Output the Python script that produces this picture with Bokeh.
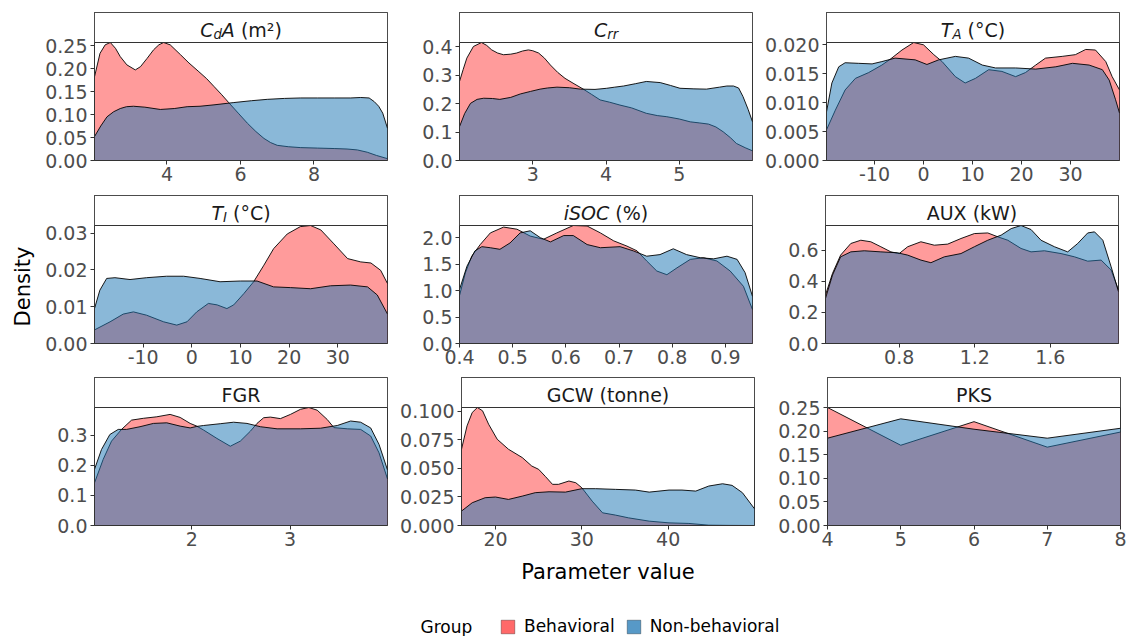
import numpy as np
from bokeh.plotting import figure
from bokeh.models import (Range1d, FixedTicker, PrintfTickFormatter, BoxAnnotation,
                          Label, Legend, LegendItem)
from bokeh.layouts import column, row
from bokeh.embed import file_html
from bokeh.resources import INLINE

groups = ["Behavioral", "Non-behavioral"]

# ---------------- C_dA (m2)
cda_x_beh = [2.03, 2.18, 2.32, 2.46, 2.6, 2.73, 2.91, 3.14, 3.28, 3.46, 3.64, 3.78, 3.91, 4.09, 4.37, 4.6, 4.87,
             5.08, 5.28, 5.48, 5.68, 5.94, 6.19, 6.42, 6.64, 6.82, 7.0, 7.3, 7.64, 8.1, 8.55, 8.9, 9.18, 9.45, 9.7, 10.0]
cda_y_beh = [0.182, 0.233, 0.2515, 0.2566, 0.244, 0.226, 0.208, 0.197, 0.204, 0.222, 0.241, 0.2515, 0.2566, 0.2515,
             0.230, 0.212, 0.193, 0.178, 0.161, 0.144, 0.126, 0.103, 0.081, 0.063, 0.048, 0.039, 0.033, 0.030, 0.028,
             0.027, 0.026, 0.025, 0.023, 0.018, 0.011, 0.004]
cda_x_non = [2.03, 2.2, 2.37, 2.55, 2.73, 2.9, 3.09, 3.4, 3.82, 4.2, 4.55, 4.9, 5.28, 5.82, 6.3, 6.73, 7.2, 7.64,
             8.1, 8.55, 9.0, 9.27, 9.5, 9.64, 9.76, 9.87, 10.0]
cda_y_non = [0.052, 0.075, 0.095, 0.106, 0.113, 0.117, 0.118, 0.116, 0.111, 0.113, 0.117, 0.118, 0.121, 0.126, 0.130,
             0.133, 0.135, 0.136, 0.136, 0.136, 0.136, 0.137, 0.136, 0.128, 0.118, 0.103, 0.070]

# ---------------- C_rr
crr_x_beh = [2.0, 2.05, 2.1, 2.19, 2.30, 2.37, 2.44, 2.52, 2.6, 2.7, 2.78, 2.86, 2.94, 3.0, 3.08, 3.16, 3.24, 3.34,
             3.44, 3.55, 3.69, 3.8, 3.92, 4.05, 4.19, 4.35, 4.55, 4.7, 4.83, 5.0, 5.15, 5.28, 5.4, 5.5, 5.6, 5.7,
             5.78, 5.9, 6.0]
crr_y_beh = [0.278, 0.32, 0.36, 0.401, 0.415, 0.405, 0.389, 0.378, 0.372, 0.374, 0.378, 0.385, 0.389, 0.386, 0.378,
             0.36, 0.336, 0.31, 0.289, 0.272, 0.251, 0.233, 0.213, 0.205, 0.195, 0.185, 0.166, 0.158, 0.154, 0.146,
             0.136, 0.132, 0.128, 0.118, 0.101, 0.08, 0.06, 0.045, 0.034]
crr_x_non = [2.0, 2.07, 2.15, 2.24, 2.33, 2.45, 2.55, 2.7, 2.83, 2.97, 3.1, 3.2, 3.33, 3.5, 3.65, 3.85, 4.01, 4.12,
             4.24, 4.4, 4.55, 4.74, 4.88, 5.01, 5.2, 5.37, 5.55, 5.65, 5.74, 5.81, 5.87, 5.94, 6.0]
crr_y_non = [0.119, 0.165, 0.201, 0.215, 0.219, 0.218, 0.215, 0.222, 0.234, 0.243, 0.251, 0.255, 0.258, 0.256, 0.251,
             0.250, 0.254, 0.258, 0.262, 0.270, 0.278, 0.274, 0.264, 0.254, 0.252, 0.251, 0.258, 0.262, 0.262, 0.255,
             0.225, 0.18, 0.136]

# ---------------- T_A (degC)
ta_x_beh = [-19.8, -18.0, -16.0, -13.9, -11.2, -8.5, -6.8, -4.4, -2.0, 0.0, 2.1, 3.8, 6.5, 8.5, 10.6, 13.3, 16.0,
            18.8, 20.8, 22.9, 24.9, 28.3, 31.0, 33.1, 35.1, 37.2, 38.5, 40.0]
ta_y_beh = [0.0053, 0.0087, 0.0122, 0.0142, 0.0152, 0.0165, 0.0175, 0.0191, 0.0204, 0.0200, 0.0183, 0.0171, 0.0145,
            0.0134, 0.0142, 0.0157, 0.0154, 0.0145, 0.0152, 0.0165, 0.0177, 0.0180, 0.0183, 0.0192, 0.0191, 0.0171,
            0.0145, 0.0122]
ta_x_non = [-19.8, -18.7, -17.3, -16.0, -13.3, -10.5, -8.5, -5.8, -1.7, 0.7, 3.1, 6.5, 9.2, 12.0, 14.7, 18.8, 22.9,
            27.0, 30.4, 33.8, 36.5, 37.9, 39.2, 40.0]
ta_y_non = [0.0084, 0.0134, 0.0162, 0.0169, 0.0168, 0.0167, 0.0171, 0.0177, 0.0174, 0.0166, 0.0174, 0.0180, 0.0177,
            0.0165, 0.0160, 0.0160, 0.0158, 0.0162, 0.0168, 0.0165, 0.0157, 0.0139, 0.0105, 0.0082]

# ---------------- T_I (degC)
ti_x_beh = [-20.0, -16.8, -14.1, -12.0, -9.3, -5.8, -3.1, -1.0, 1.0, 3.4, 5.2, 7.2, 8.6, 10.7, 12.7, 14.8, 16.8,
            19.6, 22.3, 24.4, 26.5, 29.2, 32.0, 34.7, 36.8, 38.8, 40.2]
ti_y_beh = [0.0037, 0.0059, 0.0080, 0.0086, 0.0077, 0.0059, 0.0050, 0.0059, 0.0086, 0.0109, 0.0105, 0.0095, 0.0105,
            0.0136, 0.0168, 0.0213, 0.0258, 0.0298, 0.0318, 0.0321, 0.0309, 0.0271, 0.0231, 0.0222, 0.0219, 0.0199,
            0.0163]
ti_x_non = [-20.0, -18.9, -17.5, -15.8, -12.7, -9.3, -5.2, -1.7, 1.7, 5.8, 10.0, 13.4, 16.8, 20.3, 24.4, 28.5, 32.6,
            36.1, 38.1, 40.2]
ti_y_non = [0.0095, 0.0145, 0.0177, 0.0179, 0.0174, 0.0179, 0.0183, 0.0183, 0.0177, 0.0168, 0.0170, 0.0170, 0.0154,
            0.0152, 0.0149, 0.0157, 0.0159, 0.0154, 0.0132, 0.0080]

# ---------------- iSOC (%)
isoc_x_beh = [0.4, 0.411, 0.423, 0.439, 0.458, 0.483, 0.508, 0.533, 0.558, 0.583, 0.614, 0.64, 0.665, 0.69, 0.715,
              0.734, 0.752, 0.771, 0.79, 0.809, 0.834, 0.859, 0.884, 0.909, 0.934, 0.951]
isoc_y_beh = [0.905, 1.335, 1.65, 1.87, 2.09, 2.2, 2.16, 2.03, 1.97, 2.09, 2.23, 2.22, 2.09, 1.94, 1.84, 1.75, 1.56,
              1.37, 1.30, 1.43, 1.59, 1.62, 1.56, 1.37, 1.08, 0.64]
isoc_x_non = [0.4, 0.414, 0.429, 0.442, 0.458, 0.476, 0.495, 0.514, 0.533, 0.552, 0.571, 0.596, 0.614, 0.64, 0.665,
              0.702, 0.727, 0.752, 0.777, 0.802, 0.827, 0.853, 0.878, 0.903, 0.922, 0.937, 0.951]
isoc_y_non = [1.02, 1.46, 1.75, 1.83, 1.81, 1.78, 1.9, 2.09, 2.13, 2.0, 1.92, 2.04, 2.04, 1.87, 1.81, 1.83, 1.75,
              1.65, 1.68, 1.79, 1.68, 1.62, 1.6, 1.65, 1.59, 1.34, 0.89]

# ---------------- AUX (kW)
aux_x_beh = [0.41, 0.447, 0.49, 0.544, 0.597, 0.65, 0.703, 0.756, 0.8, 0.845, 0.915, 0.986, 1.057, 1.127, 1.198,
             1.269, 1.322, 1.375, 1.445, 1.498, 1.569, 1.657, 1.728, 1.798, 1.869, 1.922, 1.961]
aux_y_beh = [0.313, 0.452, 0.57, 0.645, 0.666, 0.656, 0.624, 0.591, 0.58, 0.624, 0.656, 0.634, 0.641, 0.677, 0.709,
             0.713, 0.688, 0.666, 0.613, 0.591, 0.598, 0.58, 0.559, 0.531, 0.538, 0.474, 0.345]
aux_x_non = [0.41, 0.447, 0.49, 0.544, 0.615, 0.703, 0.791, 0.845, 0.915, 0.968, 1.039, 1.127, 1.198, 1.269, 1.34,
             1.393, 1.445, 1.498, 1.551, 1.622, 1.692, 1.745, 1.798, 1.834, 1.878, 1.922, 1.961]
aux_y_non = [0.291, 0.441, 0.559, 0.591, 0.598, 0.591, 0.585, 0.57, 0.538, 0.521, 0.559, 0.58, 0.624, 0.666, 0.699,
             0.741, 0.761, 0.735, 0.666, 0.624, 0.591, 0.645, 0.713, 0.72, 0.666, 0.495, 0.334]

# ---------------- FGR
fgr_x_beh = [1.01, 1.098, 1.183, 1.285, 1.387, 1.507, 1.643, 1.779, 1.881, 1.983, 2.05, 2.119, 2.255, 2.391, 2.493,
             2.595, 2.663, 2.731, 2.799, 2.901, 3.003, 3.105, 3.19, 3.275, 3.377, 3.445, 3.581, 3.717, 3.819, 3.904,
             3.99]
fgr_y_beh = [0.142, 0.22, 0.281, 0.32, 0.351, 0.357, 0.362, 0.37, 0.36, 0.34, 0.331, 0.318, 0.29, 0.264, 0.281,
             0.314, 0.34, 0.359, 0.361, 0.356, 0.37, 0.387, 0.393, 0.384, 0.353, 0.326, 0.322, 0.32, 0.298, 0.242,
             0.155]
fgr_x_non = [1.01, 1.081, 1.166, 1.251, 1.336, 1.473, 1.609, 1.745, 1.881, 1.983, 2.05, 2.119, 2.289, 2.425, 2.561,
             2.697, 2.867, 3.105, 3.309, 3.479, 3.615, 3.717, 3.819, 3.904, 3.99]
fgr_y_non = [0.187, 0.253, 0.303, 0.32, 0.32, 0.329, 0.34, 0.342, 0.331, 0.325, 0.33, 0.333, 0.339, 0.344, 0.34,
             0.329, 0.322, 0.322, 0.324, 0.333, 0.348, 0.344, 0.325, 0.27, 0.185]

# ---------------- GCW (tonne)
gcw_x_beh = [16.06, 16.7, 17.3, 17.9, 18.5, 19.2, 20.2, 21.5, 23.1, 24.2, 25.0, 25.8, 26.6, 27.3, 28.5, 29.3, 30.0,
             31.2, 32.4, 33.9, 35.4, 37.8, 40.1, 42.4, 44.7, 47.0, 50.0]
gcw_y_beh = [0.0667, 0.0871, 0.0988, 0.1032, 0.1003, 0.0886, 0.0754, 0.0667, 0.0594, 0.052, 0.0491, 0.0427, 0.036,
             0.036, 0.0389, 0.0374, 0.033, 0.0213, 0.0111, 0.0091, 0.0067, 0.0038, 0.0023, 0.0018, 0.0003, 0.0001, 0.0]
gcw_x_non = [16.06, 17.3, 18.8, 20.0, 21.5, 23.1, 24.6, 26.2, 28.1, 30.0, 31.6, 33.9, 36.2, 37.8, 40.1, 41.6, 43.2,
             44.7, 46.3, 47.4, 48.6, 50.0]
gcw_y_non = [0.0126, 0.0199, 0.0243, 0.0249, 0.0228, 0.0257, 0.0287, 0.0295, 0.0292, 0.0322, 0.0322, 0.0316, 0.031,
             0.0292, 0.031, 0.031, 0.0301, 0.0345, 0.0365, 0.0351, 0.0287, 0.0146]

# ---------------- PKS
pks_x_beh = [4, 5, 6, 7, 8]
pks_y_beh = [0.25, 0.17, 0.22, 0.166, 0.198]
pks_x_non = [4, 5, 6, 7, 8]
pks_y_non = [0.185, 0.226, 0.204, 0.185, 0.206]

# ---------------- ticks
cda_xticks, cda_yticks = [4, 6, 8], [0, 0.05, 0.10, 0.15, 0.20, 0.25]
crr_xticks, crr_yticks = [3, 4, 5], [0, 0.1, 0.2, 0.3, 0.4]
ta_xticks, ta_yticks = [-10, 0, 10, 20, 30], [0, 0.005, 0.010, 0.015, 0.020]
ti_xticks, ti_yticks = [-10, 0, 10, 20, 30], [0, 0.01, 0.02, 0.03]
isoc_xticks, isoc_yticks = [0.4, 0.5, 0.6, 0.7, 0.8, 0.9], [0, 0.5, 1.0, 1.5, 2.0]
aux_xticks, aux_yticks = [0.8, 1.2, 1.6], [0, 0.2, 0.4, 0.6]
fgr_xticks, fgr_yticks = [2, 3], [0, 0.1, 0.2, 0.3]
gcw_xticks, gcw_yticks = [20, 30, 40], [0, 0.025, 0.050, 0.075, 0.100]
pks_xticks, pks_yticks = [4, 5, 6, 7, 8], [0, 0.05, 0.10, 0.15, 0.20, 0.25]

panels = [
    dict(title=[("C", "italic", 0), ("d", "italic", 1), ("A", "italic", 0), (" (m²)", "normal", 0)],
         xb=cda_x_beh, yb=cda_y_beh, xn=cda_x_non, yn=cda_y_non, xt=cda_xticks, yt=cda_yticks, xf="%d", yf="%.2f"),
    dict(title=[("C", "italic", 0), ("rr", "italic", 1)],
         xb=crr_x_beh, yb=crr_y_beh, xn=crr_x_non, yn=crr_y_non, xt=crr_xticks, yt=crr_yticks, xf="%d", yf="%.1f"),
    dict(title=[("T", "italic", 0), ("A", "italic", 1), (" (°C)", "normal", 0)],
         xb=ta_x_beh, yb=ta_y_beh, xn=ta_x_non, yn=ta_y_non, xt=ta_xticks, yt=ta_yticks, xf="%d", yf="%.3f"),
    dict(title=[("T", "italic", 0), ("I", "italic", 1), (" (°C)", "normal", 0)],
         xb=ti_x_beh, yb=ti_y_beh, xn=ti_x_non, yn=ti_y_non, xt=ti_xticks, yt=ti_yticks, xf="%d", yf="%.2f"),
    dict(title=[("iSOC", "italic", 0), (" (%)", "normal", 0)],
         xb=isoc_x_beh, yb=isoc_y_beh, xn=isoc_x_non, yn=isoc_y_non, xt=isoc_xticks, yt=isoc_yticks, xf="%.1f", yf="%.1f"),
    dict(title=[("AUX (kW)", "normal", 0)],
         xb=aux_x_beh, yb=aux_y_beh, xn=aux_x_non, yn=aux_y_non, xt=aux_xticks, yt=aux_yticks, xf="%.1f", yf="%.1f"),
    dict(title=[("FGR", "normal", 0)],
         xb=fgr_x_beh, yb=fgr_y_beh, xn=fgr_x_non, yn=fgr_y_non, xt=fgr_xticks, yt=fgr_yticks, xf="%d", yf="%.1f"),
    dict(title=[("GCW (tonne)", "normal", 0)],
         xb=gcw_x_beh, yb=gcw_y_beh, xn=gcw_x_non, yn=gcw_y_non, xt=gcw_xticks, yt=gcw_yticks, xf="%d", yf="%.3f"),
    dict(title=[("PKS", "normal", 0)],
         xb=pks_x_beh, yb=pks_y_beh, xn=pks_x_non, yn=pks_y_non, xt=pks_xticks, yt=pks_yticks, xf="%d", yf="%.2f"),
]

# ---------------- styling
FONT = "DejaVu Sans"
RED, BLUE = "#FF3737", "#1F77B4"
EDGE = "#333333"
TICK_SIZE, STRIP_SIZE, SUB = 19, 19, 0.7
FW, FH, PH = 293, 148, 118          # frame width, frame height (strip + panel), panel height
DENS_W = 40
LB, RB = [54, 62, 63], [10, 10, 8]
TB, BB = [12, 5, 4], [30, 30, 65]
STRIP_MID = 13                      # text-box centre above strip bottom (px)
SUB_MID = 8
ADV = {"C": 0.698, "d": 0.635, "A": 0.684, " ": 0.318, "(": 0.390, ")": 0.390, "m": 0.974, "²": 0.401,
       "r": 0.411, "T": 0.611, "°": 0.500, "I": 0.295, "i": 0.278, "S": 0.635, "O": 0.787, "%": 0.950}

figs = []
for i, P in enumerate(panels):
    r, c = divmod(i, 3)
    xs = P["xb"] + P["xn"]
    xmin, xmax = min(xs), max(xs)
    ymax = max(max(P["yb"]), max(P["yn"]))
    p = figure(frame_width=FW, frame_height=FH,
               x_range=Range1d(xmin, xmax), y_range=Range1d(0, ymax * FH / PH),
               min_border_left=LB[c], min_border_right=RB[c], min_border_top=TB[r], min_border_bottom=BB[r],
               toolbar_location=None, tools="", output_backend="svg",
               background_fill_color="white", border_fill_color="white")
    p.outline_line_color = EDGE
    p.outline_line_width = 1
    p.grid.visible = False

    p.varea(x=P["xb"], y1=0, y2=P["yb"], fill_color=RED, fill_alpha=0.5)
    p.line(P["xb"], P["yb"], line_color="black", line_width=0.9)
    p.varea(x=P["xn"], y1=0, y2=P["yn"], fill_color=BLUE, fill_alpha=0.52)
    p.line(P["xn"], P["yn"], line_color="black", line_width=0.9)

    for ax, ticks, fmt in ((p.xaxis[0], P["xt"], P["xf"]), (p.yaxis[0], P["yt"], P["yf"])):
        ax.ticker = FixedTicker(ticks=ticks)
        ax.formatter = PrintfTickFormatter(format=fmt)
        ax.major_label_text_font = FONT
        ax.major_label_text_font_size = f"{TICK_SIZE}px"
        ax.major_label_text_color = "#4D4D4D"
        ax.major_tick_line_color = EDGE
        ax.major_tick_in = 0
        ax.major_tick_out = 4
        ax.minor_tick_line_color = None
        ax.axis_line_color = EDGE
    p.xaxis.major_label_standoff = 2
    p.yaxis.major_label_standoff = 3

    # facet strip
    p.add_layout(BoxAnnotation(bottom=ymax, fill_color="white", fill_alpha=1.0,
                               line_color=EDGE, line_alpha=1.0, line_width=1))
    xc = (xmin + xmax) / 2
    pieces = P["title"]
    common = dict(x=xc, y=ymax, text_font=FONT, text_color="#1A1A1A", text_baseline="middle")
    if len(pieces) == 1:
        p.add_layout(Label(text=pieces[0][0], y_offset=STRIP_MID, text_align="center",
                           text_font_size=f"{STRIP_SIZE}px", **common))
    else:
        widths = [sum(ADV.get(ch, 0.6) for ch in t) * STRIP_SIZE * (SUB if sub else 1) for t, st, sub in pieces]
        off = -sum(widths) / 2
        for (t, st, sub), w in zip(pieces, widths):
            size = STRIP_SIZE * (SUB if sub else 1)
            lead = len(t) - len(t.lstrip(" "))
            p.add_layout(Label(text=t.lstrip(" "), x_offset=off + lead * ADV[" "] * size,
                               y_offset=SUB_MID if sub else STRIP_MID, text_align="left",
                               text_font_style=st, text_font_size=f"{size:.1f}px", **common))
            off += w
    figs.append(p)

# shared x-axis title
p8 = figs[7]
p8.xaxis.axis_label = "Parameter value"
p8.xaxis.axis_label_text_font = FONT
p8.xaxis.axis_label_text_font_size = "21px"
p8.xaxis.axis_label_text_font_style = "normal"
p8.xaxis.axis_label_text_color = "black"
p8.xaxis.axis_label_standoff = 11

grid_h = sum(TB[k] + FH + BB[k] for k in range(3))

# shared y-axis title (own narrow canvas)
dens = figure(width=DENS_W, height=grid_h, x_range=Range1d(0, DENS_W), y_range=Range1d(0, grid_h),
              x_axis_location=None, y_axis_location=None, min_border=0, toolbar_location=None, tools="",
              output_backend="svg", outline_line_color=None, background_fill_color="white",
              border_fill_color="white")
dens.grid.visible = False
dens.add_layout(Label(x=22, y=grid_h - 286, text="Density", angle=np.pi / 2, text_align="center",
                      text_baseline="middle", text_font=FONT, text_font_size="21px", text_color="black"))

# legend strip
leg = figure(width=1126, height=46, x_range=Range1d(0, 1126), y_range=Range1d(0, 46),
             x_axis_location=None, y_axis_location=None, min_border=0, toolbar_location=None, tools="",
             output_backend="svg", outline_line_color=None, background_fill_color="white",
             border_fill_color="white")
leg.grid.visible = False
r_beh = leg.quad(left=[np.nan], right=[np.nan], bottom=[np.nan], top=[np.nan], fill_color=RED, fill_alpha=0.75,
                 line_color="black", line_alpha=0.3)
r_non = leg.quad(left=[np.nan], right=[np.nan], bottom=[np.nan], top=[np.nan], fill_color=BLUE, fill_alpha=0.75,
                 line_color="black", line_alpha=0.3)
legend = Legend(items=[LegendItem(label=groups[0], renderers=[r_beh]),
                       LegendItem(label=groups[1], renderers=[r_non])],
                location=(499, 0), orientation="horizontal", padding=0, margin=0, spacing=10,
                label_standoff=8, glyph_width=17, glyph_height=17, label_height=17,
                border_line_color=None, background_fill_alpha=0,
                label_text_font=FONT, label_text_font_size="17px", label_text_color="black")
leg.add_layout(legend)
leg.add_layout(Label(x=420, y=10, text="Group", text_align="left", text_baseline="middle",
                     text_font=FONT, text_font_size="17px", text_color="black"))

panels_grid = column(row(*figs[0:3]), row(*figs[3:6]), row(*figs[6:9]))
layout = column(row(dens, panels_grid), leg)
open("out.html", "w").write(file_html(layout, INLINE, "Density"))
